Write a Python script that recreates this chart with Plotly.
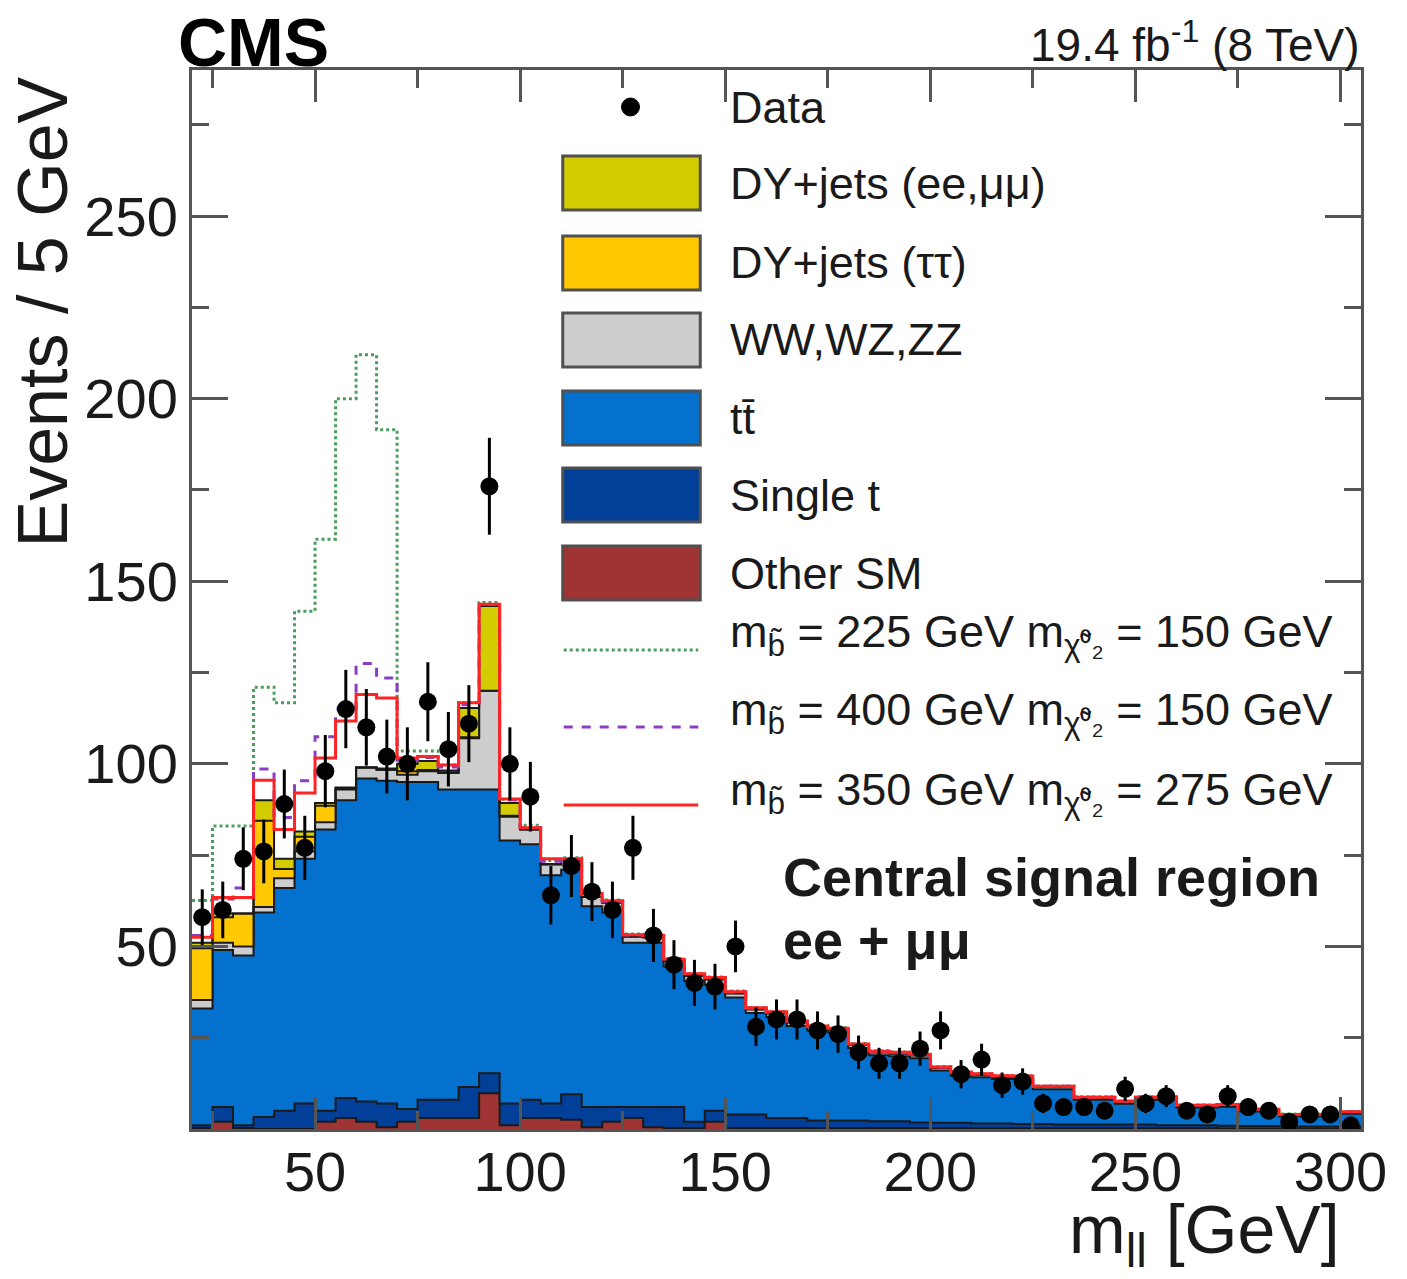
import numpy as np
import plotly.graph_objects as go

# ---------------- data (5 GeV bins from 20 to 305 GeV) ----------------
bin_edges = np.arange(20, 306, 5)

data_counts = [58, 60, 74, 76, 89, 77, 98, 115, 110, 102,
               100, 117, 104, 111, 176, 100, 91, 64, 72, 65,
               60, 77, 53, 45, 40, 39, 50, 28, 30, 30,
               27, 26, 21, 18, 18, 22, 27, 15, 19, 12,
               13, 7, 6, 6, 5, 11, 7, 9, 5, 4,
               9, 6, 5, 2, 4, 4, 1]

other_sm = [0.3, 2, 0.3, 0, 0, 0, 2, 3, 2, 0.5,
            2, 3, 3, 3, 9.8, 1, 3, 3, 2.5, 0.5,
            2, 3, 0.5, 0.3, 0.3, 2, 0.3, 0.3, 0.3, 0.3,
            0.3, 0.3, 0.3, 0.3, 0.3, 0.3, 0.2, 0.2, 0.2, 0.2,
            0.2, 0.2, 0.2, 0.2, 0.2, 0.2, 0.2, 0.2, 0.2, 0.2,
            0.1, 0.1, 0.1, 0.1, 0.1, 0.1, 0.1]

single_t = [0.7, 4, 0.7, 3.3, 5, 7, 3, 5.5, 5.5, 6.5,
            3.5, 5, 5, 8.5, 5.5, 6, 5, 4, 7, 5.5,
            4, 3, 5.5, 5.7, 1.7, 3, 3.7, 3.7, 2.7, 2.7,
            2, 2, 2, 1.8, 1.8, 1.5, 1.5, 1.5, 1.3, 1.3,
            1.2, 1.2, 1, 1, 1, 1, 1, 0.8, 0.8, 0.8,
            0.8, 0.7, 0.7, 0.6, 0.6, 0.6, 0.6]

ttbar = [32, 43, 46.5, 56, 61, 67, 77, 81.5, 88.5, 88.4,
         89.5, 87, 85, 81.5, 77.7, 72, 70, 62.5, 61.5, 55,
         53.3, 45, 45, 38.5, 38.5, 34.5, 32, 27.8, 27.7, 25.2,
         24.7, 24.1, 19.9, 18.1, 17.8, 17.6, 14.3, 12.9, 12.7, 12.2,
         12.3, 9.5, 9.7, 6.8, 6.8, 5.7, 6.8, 7, 4.9, 4.9,
         5.2, 4, 4, 2.8, 2.8, 2.8, 3.5]

diboson = [2.3, 2, 2.5, 1.5, 2.7, 2, 2, 3, 3, 3,
           2, 3, 4.5, 14, 27, 6.5, 4, 3, 2.5, 2.5,
           2.7, 1.7, 1.5, 1.5, 1.5, 1.5, 1.2, 1, 1, 1,
           0.9, 0.9, 0.8, 0.8, 0.8, 0.8, 0.7, 0.7, 0.6, 0.6,
           0.6, 0.6, 0.6, 0.5, 0.5, 0.5, 0.5, 0.5, 0.4, 0.4,
           0.4, 0.4, 0.4, 0.3, 0.3, 0.3, 0.3]

dy_tautau = [14.2, 7, 9, 23.6, 2.5, 4, 4.5, 0.3, 0, 0,
             1, 0.3, 0.2, 0.3, 0, 0.3, 0, 0, 0, 0] + [0] * 37

dy_eemumu = [1.5, 1, 0, 5.6, 2.8, 1.5, 0.8, 0.2, 0, 0.3,
             2, 2.5, 0.5, 8, 23.2, 3.5, 0.2, 0, 0, 0] + [0] * 37

sig_225_150 = [11.6, 24, 24, 31, 42.7, 60.3, 72.2, 106.5, 113, 92.8,
               3.5, 2.7, 1.5, 1.5, 1, 1, 1, 1, 0.8, 0.8,
               0.7, 0.7, 0.7, 0.7, 0.6, 0.6, 0.6, 0.5, 0.5, 0.5,
               0.5, 0.5, 0.4, 0.4, 0.4, 0.4, 0.4, 0.3, 0.3, 0.3,
               0.3, 0.3, 0.3, 0.3, 0.3, 0.3, 0.3, 0.3, 0.3, 0.3,
               0.3, 0.3, 0.3, 0.3, 0.3, 0.3, 0.3]

sig_400_150 = [2, 4, 7, 8.6, 11.3, 13.9, 18.1, 21.5, 28.5, 24.8,
               1.0, 0.9, 0.9, 0.9, 0.4, 0.8, 0.3, 0.8, 0.4, 0.7,
               0.4, 0.4, 0.4, 0.4, 0.4, 0.4, 0.3, 0.3, 0.3, 0.3,
               0.2, 0.2, 0.2, 0.2, 0.2, 0.2, 0.2, 0.2, 0.2, 0.2,
               0.2, 0.2, 0.2, 0.2, 0.2, 0.2, 0.2, 0.2, 0.2, 0.2,
               0.2, 0.2, 0.2, 0.2, 0.2, 0.2, 0.2]

sig_350_275 = [1.5, 4.4, 4.4, 5.5, 8, 10.5, 12.3, 18.2, 20, 19.3,
               1.6, 1.2, 1.5, 1.4, 0.5, 1.1, 0.3, 1.5, 0.5, 1,
               0.5, 0.5, 0.5, 0.5, 0.5, 0.5, 0.4, 0.4, 0.4, 0.4,
               0.3, 0.3, 0.3, 0.3, 0.3, 0.3, 0.3, 0.3, 0.3, 0.3,
               0.2, 0.2, 0.2, 0.2, 0.2, 0.2, 0.2, 0.2, 0.2, 0.2,
               0.2, 0.2, 0.2, 0.2, 0.2, 0.2, 0.2]

x_ticks = [50, 100, 150, 200, 250, 300]
x_minor = [25, 75, 125, 175, 225, 275]
y_ticks = [50, 100, 150, 200, 250]
y_minor = [25, 75, 125, 175, 225, 275]

# ---------------- styling ----------------
FONT = "Liberation Sans, Arial, Helvetica, sans-serif"
C_OTHER = "#a03434"
C_SINGLE = "#023f98"
C_TT = "#0471cf"
C_VV = "#cdcdcd"
C_DYTT = "#ffc800"
C_DYLL = "#d2cc00"
C_GREEN = "#4a9d5c"
C_PURPLE = "#8a3fc2"
C_RED = "#ff2424"
AXC = "#555555"

# page offset (default body margin) and figure size
OFF = 8
W, H = 1407 - 2 * OFF, 1279 - 2 * OFF
# plot area in screenshot pixels
PL, PR, PT, PB = 192, 1365, 70, 1129


def px(x):
    return (x - PL) / (PR - PL)


def py(y):
    return (PB - y) / (PB - PT)


def step(vals):
    v = np.asarray(vals, dtype=float)
    return np.append(v, v[-1])


centers = 0.5 * (bin_edges[:-1] + bin_edges[1:])

components = [
    ("Other SM", other_sm, C_OTHER),
    ("Single t", single_t, C_SINGLE),
    ("tt", ttbar, C_TT),
    ("VV", diboson, C_VV),
    ("DYtt", dy_tautau, C_DYTT),
    ("DYll", dy_eemumu, C_DYLL),
]

fig = go.Figure()
cum = np.zeros(len(centers))
for i, (name, vals, col) in enumerate(components):
    cum = cum + np.asarray(vals, dtype=float)
    fig.add_trace(go.Scatter(
        x=bin_edges, y=step(cum), mode="lines", line_shape="hv",
        fill="tozeroy" if i == 0 else "tonexty", fillcolor=col,
        line=dict(color="#1a1a1a", width=2), name=name, showlegend=False,
        hoverinfo="skip"))
total_sm = cum.copy()

for vals, col, dash in [(sig_225_150, C_GREEN, "dot"),
                        (sig_400_150, C_PURPLE, "dash"),
                        (sig_350_275, C_RED, "solid")]:
    fig.add_trace(go.Scatter(
        x=bin_edges, y=step(total_sm + np.asarray(vals)), mode="lines",
        line_shape="hv", line=dict(color=col, width=3, dash=dash),
        showlegend=False, hoverinfo="skip"))

dc = np.asarray(data_counts, dtype=float)
fig.add_trace(go.Scatter(
    x=centers, y=dc, mode="markers",
    marker=dict(color="black", size=18, symbol="circle"),
    error_y=dict(type="data", array=np.sqrt(dc), width=0, thickness=3, color="black"),
    showlegend=False))

# ---------------- legend (drawn by hand) ----------------
shapes = []
annotations = []
TXT = dict(family=FONT, size=45, color="#1a1a1a")

shapes.append(dict(type="circle", xref="paper", yref="paper",
                   x0=px(623), x1=px(641), y0=py(116), y1=py(98),
                   fillcolor="black", line=dict(color="black", width=1)))
annotations.append(dict(text="Data", x=px(730), y=py(107), xref="paper", yref="paper",
                        xanchor="left", yanchor="middle", showarrow=False, font=TXT))

box_rows = [
    (183, C_DYLL, "DY+jets (ee,μμ)"),
    (263, C_DYTT, "DY+jets (ττ)"),
    (340, C_VV, "WW,WZ,ZZ"),
    (418, C_TT, "tt̄"),
    (495, C_SINGLE, "Single t"),
    (573, C_OTHER, "Other SM"),
]
for yc, col, label in box_rows:
    shapes.append(dict(type="rect", xref="paper", yref="paper",
                       x0=px(564), x1=px(702), y0=py(yc + 27), y1=py(yc - 27),
                       fillcolor=col, line=dict(color="#505050", width=3)))
    annotations.append(dict(text=label, x=px(730), y=py(yc), xref="paper", yref="paper",
                            xanchor="left", yanchor="middle", showarrow=False, font=TXT))

sig_rows = [
    (650, 634, C_GREEN, "dot", "m<sub>b̃</sub> = 225 GeV m<sub>χ̃⁰₂</sub> = 150 GeV"),
    (727, 712, C_PURPLE, "dash", "m<sub>b̃</sub> = 400 GeV m<sub>χ̃⁰₂</sub> = 150 GeV"),
    (805, 792, C_RED, "solid", "m<sub>b̃</sub> = 350 GeV m<sub>χ̃⁰₂</sub> = 275 GeV"),
]
for yl, yt, col, dash, label in sig_rows:
    shapes.append(dict(type="line", xref="paper", yref="paper",
                       x0=px(565), x1=px(700), y0=py(yl), y1=py(yl),
                       line=dict(color=col, width=3, dash=dash)))
    annotations.append(dict(text=label, x=px(730), y=py(yt), xref="paper", yref="paper",
                            xanchor="left", yanchor="middle", showarrow=False, font=TXT))

REG = dict(family=FONT, size=54, color="#1a1a1a")
annotations.append(dict(text="<b>Central signal region</b>", x=px(783), y=py(877),
                        xref="paper", yref="paper", xanchor="left", yanchor="middle",
                        showarrow=False, font=REG))
annotations.append(dict(text="<b>ee + μμ</b>", x=px(783), y=py(940),
                        xref="paper", yref="paper", xanchor="left", yanchor="middle",
                        showarrow=False, font=REG))

annotations.append(dict(text="<b>CMS</b>", x=px(176), y=py(42), xref="paper", yref="paper",
                        xanchor="left", yanchor="middle", showarrow=False,
                        font=dict(family=FONT, size=68, color="black")))
annotations.append(dict(text="19.4 fb<sup>-1</sup> (8 TeV)", x=px(1366), y=py(42),
                        xref="paper", yref="paper", xanchor="right", yanchor="middle",
                        showarrow=False, font=dict(family=FONT, size=46, color="#1a1a1a")))

annotations.append(dict(text="Events / 5 GeV", x=px(42), y=py(312), xref="paper", yref="paper",
                        xanchor="center", yanchor="middle", textangle=-90, showarrow=False,
                        font=dict(family=FONT, size=70, color="#1a1a1a")))
annotations.append(dict(text="m<sub>ll</sub> [GeV]", x=px(1346), y=py(1234), xref="paper",
                        yref="paper", xanchor="right", yanchor="middle", showarrow=False,
                        font=dict(family=FONT, size=68, color="#1a1a1a")))

axis_common = dict(showgrid=False, zeroline=False, ticks="inside", tickcolor=AXC,
                   tickwidth=3, showline=True, linecolor=AXC, linewidth=3, mirror="ticks",
                   tickfont=dict(family=FONT, size=56, color="#1a1a1a"))

fig.update_layout(
    width=W, height=H,
    margin=dict(l=PL - OFF, r=W - (PR - OFF), t=PT - OFF, b=H - (PB - OFF)),
    paper_bgcolor="white", plot_bgcolor="white",
    showlegend=False,
    shapes=shapes, annotations=annotations,
    xaxis=dict(range=[20, 305], tickmode="array", tickvals=x_ticks, ticklen=32,
               ticklabelstandoff=-8,
               minor=dict(tickmode="array", tickvals=x_minor, ticklen=18, tickwidth=3,
                          tickcolor=AXC, ticks="inside"),
               **axis_common),
    yaxis=dict(range=[0, 290], tickmode="array", tickvals=y_ticks, ticklen=36,
               minor=dict(tickmode="array", tickvals=y_minor, ticklen=17, tickwidth=3,
                          tickcolor=AXC, ticks="inside"),
               **axis_common),
)

fig.write_html("out.html")
